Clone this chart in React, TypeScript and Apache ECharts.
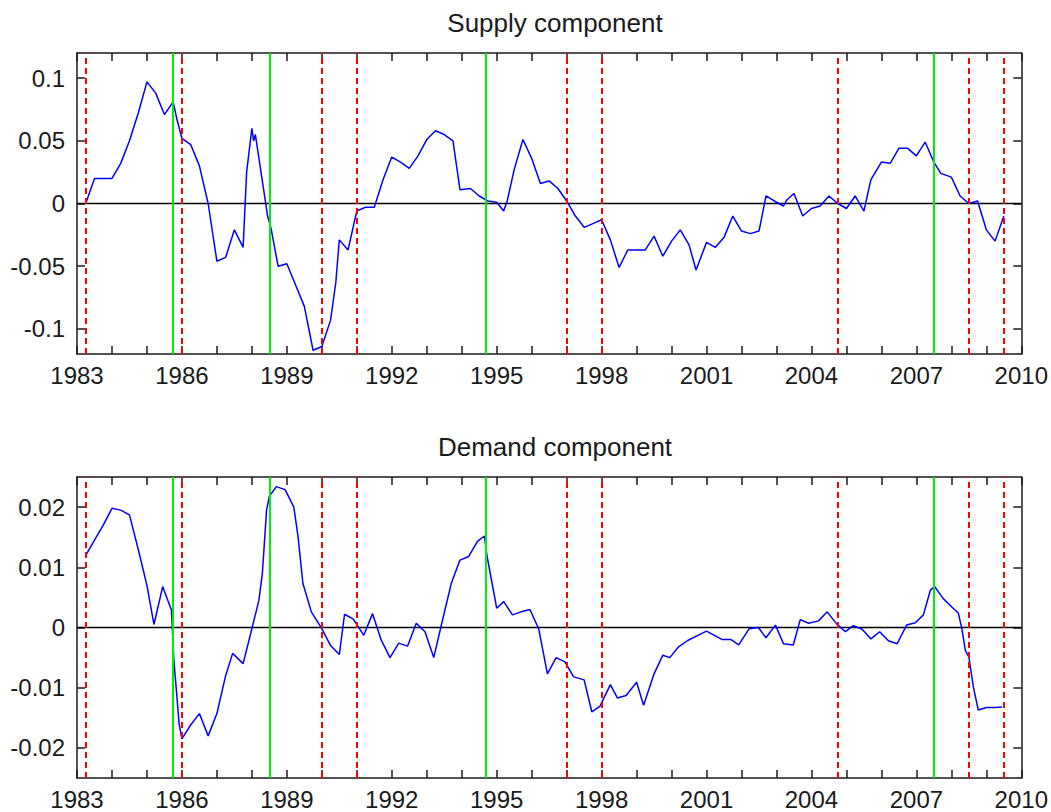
import React, { useEffect, useRef } from "react";
import * as echarts from "echarts";

// ---------- Data ----------
const xTickYears = [1983, 1984, 1985, 1986, 1987, 1988, 1989, 1990, 1991, 1992, 1993, 1994, 1995, 1996, 1997, 1998, 1999, 2000, 2001, 2002, 2003, 2004, 2005, 2006, 2007, 2008, 2009, 2010];
const xLabelYears = [1983, 1986, 1989, 1992, 1995, 1998, 2001, 2004, 2007, 2010];
const supplyTicks = [-0.1, -0.05, 0, 0.05, 0.1];
const demandTicks = [-0.02, -0.01, 0, 0.01, 0.02];

const redDashedYears = [1983.25, 1986.0, 1990.0, 1991.0, 1997.0, 1998.0, 2004.75, 2008.5, 2009.5];
const greenYears = [1985.75, 1988.5, 1994.7, 2007.5];

const supplyYears = [
  1983.25, 1983.5, 1983.75, 1984.0, 1984.25, 1984.5, 1984.75, 1985.0, 1985.25, 1985.5, 1985.75, 1985.85,
  1986.0, 1986.25, 1986.5, 1986.75, 1987.0, 1987.25, 1987.5, 1987.75, 1987.85, 1988.0, 1988.05, 1988.1,
  1988.45, 1988.55, 1988.75, 1989.0, 1989.25, 1989.5, 1989.75, 1990.0, 1990.25, 1990.4, 1990.5, 1990.75,
  1991.0, 1991.25, 1991.5, 1991.75, 1992.0, 1992.25, 1992.5, 1992.75, 1993.0, 1993.25, 1993.5, 1993.75,
  1993.95, 1994.25, 1994.5, 1994.75, 1995.0, 1995.2, 1995.3, 1995.5, 1995.75, 1996.0, 1996.25, 1996.5,
  1996.75, 1997.0, 1997.25, 1997.5, 1997.75, 1998.0, 1998.25, 1998.5, 1998.75, 1999.25, 1999.5, 1999.75,
  2000.0, 2000.25, 2000.5, 2000.7, 2001.0, 2001.25, 2001.5, 2001.75, 2002.0, 2002.25, 2002.5, 2002.7,
  2003.0, 2003.2, 2003.3, 2003.5, 2003.75, 2004.0, 2004.25, 2004.5, 2004.75, 2005.0, 2005.25, 2005.5,
  2005.7, 2006.0, 2006.25, 2006.5, 2006.75, 2007.0, 2007.25, 2007.5, 2007.7, 2008.0, 2008.25, 2008.5,
  2008.75, 2009.0, 2009.25, 2009.5,
];
const supplyValues = [
  0.0, 0.02, 0.02, 0.02, 0.032, 0.05, 0.072, 0.097, 0.088, 0.071, 0.081, 0.068,
  0.052, 0.047, 0.03, 0.0, -0.046, -0.043, -0.021, -0.035, 0.025, 0.06, 0.05, 0.055,
  -0.01, -0.02, -0.05, -0.048, -0.065, -0.082, -0.117, -0.114, -0.093, -0.063, -0.029, -0.037,
  -0.006, -0.003, -0.003, 0.019, 0.037, 0.033, 0.028, 0.038, 0.051, 0.058, 0.055, 0.05,
  0.011, 0.012, 0.006, 0.002, 0.001, -0.006, 0.002, 0.027, 0.051, 0.036, 0.016, 0.018,
  0.012, 0.002, -0.01, -0.019, -0.016, -0.013, -0.029, -0.051, -0.037, -0.037, -0.026, -0.042,
  -0.03, -0.021, -0.033, -0.053, -0.031, -0.035, -0.027, -0.01, -0.022, -0.024, -0.022, 0.006,
  0.001, -0.002, 0.003, 0.008, -0.01, -0.004, -0.002, 0.006, 0.0, -0.004, 0.006, -0.006,
  0.019, 0.033, 0.032, 0.044, 0.044, 0.038, 0.049, 0.033, 0.024, 0.021, 0.006, 0.0,
  0.002, -0.021, -0.03, -0.01,
];

const demandYears = [
  1983.25, 1983.5, 1983.75, 1984.0, 1984.25, 1984.5, 1984.75, 1985.0, 1985.2, 1985.45, 1985.7, 1985.77,
  1985.85, 1985.92, 1986.0, 1986.25, 1986.5, 1986.75, 1987.0, 1987.25, 1987.45, 1987.75, 1988.0, 1988.2,
  1988.3, 1988.42, 1988.5, 1988.7, 1988.95, 1989.2, 1989.32, 1989.46, 1989.7, 1990.0, 1990.25, 1990.5,
  1990.65, 1990.9, 1991.2, 1991.45, 1991.7, 1991.95, 1992.2, 1992.45, 1992.7, 1992.95, 1993.2, 1993.45,
  1993.7, 1993.95, 1994.2, 1994.45, 1994.65, 1994.72, 1995.0, 1995.2, 1995.45, 1995.7, 1995.95, 1996.2,
  1996.45, 1996.7, 1996.95, 1997.2, 1997.5, 1997.72, 1997.95, 1998.25, 1998.45, 1998.7, 1999.0, 1999.2,
  1999.5, 1999.75, 1999.95, 2000.2, 2000.45, 2000.75, 2001.0, 2001.45, 2001.7, 2001.92, 2002.22, 2002.48,
  2002.7, 2002.97, 2003.2, 2003.48, 2003.68, 2003.92, 2004.2, 2004.45, 2004.72, 2004.97, 2005.2, 2005.45,
  2005.7, 2005.95, 2006.2, 2006.45, 2006.72, 2006.97, 2007.2, 2007.4, 2007.52, 2007.77, 2008.05, 2008.2,
  2008.3, 2008.4, 2008.5, 2008.63, 2008.77, 2009.0, 2009.25, 2009.45,
];
const demandValues = [
  0.012, 0.0145, 0.017, 0.0198, 0.0195, 0.0187, 0.013, 0.007, 0.0005, 0.0068, 0.0029, -0.0055,
  -0.011, -0.016, -0.0185, -0.0162, -0.0143, -0.018, -0.0143, -0.008, -0.0043, -0.006, -0.0002, 0.0045,
  0.009, 0.0195, 0.0218, 0.0234, 0.0229, 0.02, 0.0151, 0.0073, 0.0026, -0.0002, -0.003, -0.0045,
  0.0022, 0.0014, -0.0013, 0.0023, -0.0021, -0.005, -0.0026, -0.0031, 0.0007, -0.0007, -0.005, 0.0012,
  0.0073, 0.0112, 0.0118, 0.0143, 0.0152, 0.012, 0.0032, 0.0043, 0.0021, 0.0026, 0.003, -0.0002,
  -0.0077, -0.005, -0.0057, -0.0082, -0.0087, -0.014, -0.0131, -0.0095, -0.0117, -0.0113, -0.0091, -0.0129,
  -0.0077, -0.0046, -0.005, -0.0032, -0.0022, -0.0013, -0.0006, -0.002, -0.002, -0.0029, -0.0002, 0.0,
  -0.0017, 0.0004, -0.0027, -0.0029, 0.0013, 0.0007, 0.0011, 0.0026, 0.0006, -0.0007, 0.0003, -0.0003,
  -0.0019, -0.0007, -0.0022, -0.0027, 0.0004, 0.0008, 0.0021, 0.0062, 0.0068, 0.0048, 0.0032, 0.0024,
  -0.0002, -0.0038, -0.0049, -0.0099, -0.0137, -0.0133, -0.0133, -0.0132,
];

// ---------- Styles ----------
const FONT = "'Liberation Sans', Arial, Helvetica, sans-serif";
const TEXT = "#1a1a1a";
const AXIS = "#1a1a1a";

function zip(xs: number[], ys: number[]) {
  return xs.map((x, i) => [x, ys[i]]);
}

function xAxisDef(gridIndex: number, position: "top" | "bottom", showLabel: boolean) {
  return {
    type: "value",
    gridIndex,
    position,
    min: 1983,
    max: 2010,
    axisLine: { show: true, onZero: false, lineStyle: { color: AXIS, width: 1.5 } },
    axisTick: { show: true, inside: true, length: 8, customValues: xTickYears, lineStyle: { color: AXIS, width: 1.5 } },
    axisLabel: {
      show: showLabel,
      customValues: xLabelYears,
      formatter: (v: number) => String(v),
      margin: 9,
      fontSize: 24,
      color: TEXT,
      fontFamily: FONT,
    },
    splitLine: { show: false },
  };
}

function yAxisDef(gridIndex: number, position: "left" | "right", showLabel: boolean, min: number, max: number, ticks: number[]) {
  return {
    type: "value",
    gridIndex,
    position,
    min,
    max,
    axisLine: { show: true, onZero: false, lineStyle: { color: AXIS, width: 1.5 } },
    axisTick: { show: true, inside: true, length: 8, customValues: ticks, lineStyle: { color: AXIS, width: 1.5 } },
    axisLabel: {
      show: showLabel,
      customValues: ticks,
      formatter: (v: number) => String(v),
      margin: 12,
      fontSize: 24,
      color: TEXT,
      fontFamily: FONT,
    },
    splitLine: { show: false },
  };
}

function guideMarkLines() {
  return {
    silent: true,
    symbol: ["none", "none"],
    label: { show: false },
    emphasis: { disabled: true },
    data: [
      ...redDashedYears.map((y) => ({ xAxis: y, lineStyle: { color: "#ff0000", width: 2, type: [6, 4] } })),
      ...greenYears.map((y) => ({ xAxis: y, lineStyle: { color: "#00ee00", width: 2, type: "solid" } })),
    ],
  };
}

export default function App() {
  const ref = useRef<HTMLDivElement>(null);

  useEffect(() => {
    if (!ref.current) return;
    const chart = echarts.init(ref.current, undefined, { renderer: "svg" });
    const option = {
      animation: false,
      backgroundColor: "#ffffff",
      title: [
        {
          text: "Supply component",
          left: 550,
          top: 5,
          textAlign: "center",
          textStyle: { fontSize: 26, fontWeight: "normal", color: TEXT, fontFamily: FONT },
        },
        {
          text: "Demand component",
          left: 550,
          top: 429,
          textAlign: "center",
          textStyle: { fontSize: 26, fontWeight: "normal", color: TEXT, fontFamily: FONT },
        },
      ],
      grid: [
        { left: 77, top: 53, width: 946, height: 301, containLabel: false },
        { left: 77, top: 477, width: 946, height: 301, containLabel: false },
      ],
      xAxis: [
        xAxisDef(0, "bottom", true),
        xAxisDef(0, "top", false),
        xAxisDef(1, "bottom", true),
        xAxisDef(1, "top", false),
      ],
      yAxis: [
        yAxisDef(0, "left", true, -0.12, 0.12, supplyTicks),
        yAxisDef(0, "right", false, -0.12, 0.12, supplyTicks),
        yAxisDef(1, "left", true, -0.025, 0.025, demandTicks),
        yAxisDef(1, "right", false, -0.025, 0.025, demandTicks),
      ],
      series: [
        {
          type: "line",
          xAxisIndex: 0,
          yAxisIndex: 0,
          z: 1,
          data: [[1983, 0], [2010, 0]],
          showSymbol: false,
          silent: true,
          lineStyle: { color: "#000000", width: 1.5 },
          markLine: guideMarkLines(),
        },
        {
          type: "line",
          name: "Supply component",
          xAxisIndex: 0,
          yAxisIndex: 0,
          z: 3,
          data: zip(supplyYears, supplyValues),
          showSymbol: false,
          lineStyle: { color: "#0000ff", width: 1.5 },
        },
        {
          type: "line",
          xAxisIndex: 2,
          yAxisIndex: 2,
          z: 1,
          data: [[1983, 0], [2010, 0]],
          showSymbol: false,
          silent: true,
          lineStyle: { color: "#000000", width: 1.5 },
          markLine: guideMarkLines(),
        },
        {
          type: "line",
          name: "Demand component",
          xAxisIndex: 2,
          yAxisIndex: 2,
          z: 3,
          data: zip(demandYears, demandValues),
          showSymbol: false,
          lineStyle: { color: "#0000ff", width: 1.5 },
        },
      ],
    };
    chart.setOption(option as any);
    return () => chart.dispose();
  }, []);

  return (
    <div
      ref={ref}
      style={{ position: "absolute", left: 0, top: 0, width: 1051, height: 812, background: "#fff" }}
    />
  );
}
